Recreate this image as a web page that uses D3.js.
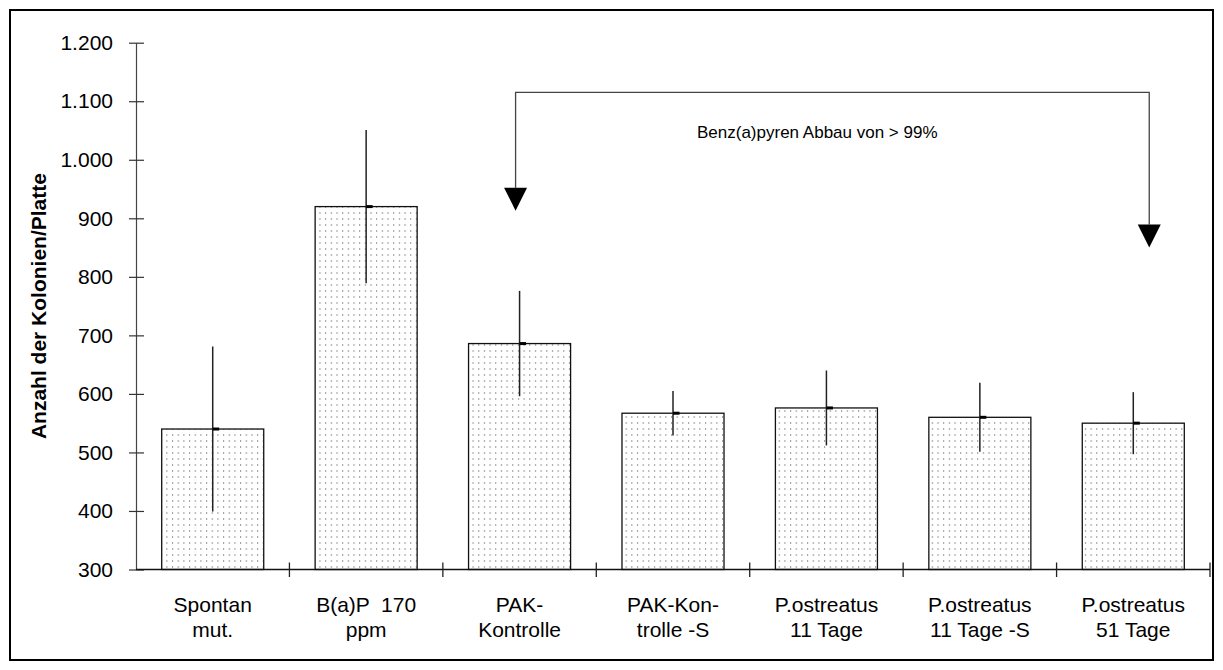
<!DOCTYPE html>
<html>
<head>
<meta charset="utf-8">
<script src="https://cdn.jsdelivr.net/npm/d3@7"></script>
<style>
  body { margin: 0; background: #fff; }
  svg { display: block; font-family: "Liberation Sans", Arial, sans-serif; }
</style>
</head>
<body>
<div id="chart-container"></div>
<script>
// data
const categories = [
  ["Spontan", "mut."],
  ["B(a)P  170", "ppm"],
  ["PAK-", "Kontrolle"],
  ["PAK-Kon-", "trolle -S"],
  ["P.ostreatus", "11 Tage"],
  ["P.ostreatus", "11 Tage -S"],
  ["P.ostreatus", "51 Tage"]
]
const means = [540, 920, 686, 567, 576, 560, 550]
const errors = [141, 131, 90, 38, 64, 59, 53]
const yTicks = [300, 400, 500, 600, 700, 800, 900, 1000, 1100, 1200]
const noteText = "Benz(a)pyren Abbau von > 99%"
// bracket: level and arrow tips in data units
const bracketLevel = 1115
const arrowTips = [913, 850]
const arrowCats = [2, 6]
const arrowFrac = [0.474, 0.604]

const W = 1223, H = 670
const plot = {left: 136, right: 1210, top: 42.7, bottom: 569.5}

const svg = d3.select("#chart-container")
  .append("svg")
    .attr("width", W)
    .attr("height", H)

// dotted fill like the Excel pattern
const pat = svg.append("defs").append("pattern")
  .attr("id", "dots")
  .attr("patternUnits", "userSpaceOnUse")
  .attr("width", 5.67)
  .attr("height", 6)
pat.append("rect").attr("width", 5.67).attr("height", 6).attr("fill", "#fff")
pat.append("rect").attr("x", 2).attr("y", 2).attr("width", 1).attr("height", 2).attr("fill", "#9a9a9a")

// outer frame
svg.append("rect")
  .attr("x", 10).attr("y", 10)
  .attr("width", 1203).attr("height", 650)
  .attr("fill", "none")
  .attr("stroke", "#000")
  .attr("stroke-width", 2)

const x = d3.scaleBand()
  .domain(d3.range(categories.length))
  .range([plot.left, plot.right])
  .padding(0)

const y = d3.scaleLinear()
  .domain([300, 1200])
  .range([plot.bottom, plot.top])

const de = d3.formatLocale({decimal: ",", thousands: ".", grouping: [3], currency: ["", " €"]})
const fmt = de.format(",d")

const barW = x.bandwidth() * 0.665
const cx = i => x(i) + x.bandwidth() / 2

// bars
svg.selectAll("rect.bar")
  .data(means)
  .join("rect")
    .attr("class", "bar")
    .attr("x", (d, i) => cx(i) - barW / 2)
    .attr("y", d => y(d))
    .attr("width", barW)
    .attr("height", d => y(300) - y(d))
    .attr("fill", "url(#dots)")
    .attr("stroke", "#111")
    .attr("stroke-width", 1.3)

// error bars (line only, with a small stub at the mean)
svg.selectAll("line.err")
  .data(means)
  .join("line")
    .attr("class", "err")
    .attr("x1", (d, i) => cx(i))
    .attr("x2", (d, i) => cx(i))
    .attr("y1", (d, i) => y(d + errors[i]))
    .attr("y2", (d, i) => y(d - errors[i]))
    .attr("stroke", "#222")
    .attr("stroke-width", 1.5)

svg.selectAll("line.stub")
  .data(means)
  .join("line")
    .attr("class", "stub")
    .attr("x1", (d, i) => cx(i))
    .attr("x2", (d, i) => cx(i) + 6.5)
    .attr("y1", d => y(d))
    .attr("y2", d => y(d))
    .attr("stroke", "#000")
    .attr("stroke-width", 3)

// y axis
const yAxis = svg.append("g")
  .attr("transform", `translate(${plot.left},0)`)
  .call(d3.axisLeft(y).tickValues(yTicks).tickFormat(fmt).tickSizeInner(7).tickSizeOuter(0).tickPadding(16))
yAxis.select(".domain").attr("stroke", "#444").attr("stroke-width", 1.2)
yAxis.selectAll(".tick line").attr("x2", 8).attr("x1", -7).attr("stroke", "#333").attr("stroke-width", 1.2)
yAxis.selectAll(".tick text")
  .attr("font-size", 21)
  .attr("font-family", "Liberation Sans, Arial, sans-serif")
  .attr("fill", "#000")
  .attr("x", -23)

// x axis with ticks at category boundaries
svg.append("line")
  .attr("x1", plot.left).attr("x2", plot.right)
  .attr("y1", plot.bottom).attr("y2", plot.bottom)
  .attr("stroke", "#111").attr("stroke-width", 1.3)

const bounds = d3.range(categories.length + 1).map(i => plot.left + i * x.step())
svg.selectAll("line.xtick")
  .data(bounds.slice(1))
  .join("line")
    .attr("class", "xtick")
    .attr("x1", d => d).attr("x2", d => d)
    .attr("y1", plot.bottom - 7).attr("y2", plot.bottom + 7.5)
    .attr("stroke", "#222").attr("stroke-width", 1.3)

// category labels
const lab = svg.selectAll("text.cat")
  .data(categories)
  .join("text")
    .attr("class", "cat")
    .attr("text-anchor", "middle")
    .attr("font-size", 21)
    .attr("fill", "#000")
    .style("white-space", "pre")
lab.each(function(d, i) {
  d3.select(this).selectAll("tspan")
    .data(d)
    .join("tspan")
      .attr("x", cx(i))
      .attr("y", (t, j) => 611.5 + j * 25)
      .text(t => t)
})

// y title
svg.append("text")
  .attr("transform", `translate(46,${(plot.top + plot.bottom) / 2}) rotate(-90)`)
  .attr("text-anchor", "middle")
  .attr("font-size", 21)
  .attr("font-weight", "bold")
  .attr("fill", "#000")
  .text("Anzahl der Kolonien/Platte")

// annotation bracket with arrows
const ax = arrowCats.map((c, k) => x(c) + x.bandwidth() * arrowFrac[k])
const yl = y(bracketLevel)
const headH = 23, headW = 23
svg.append("path")
  .attr("d", `M${ax[0]},${y(arrowTips[0]) - headH} V${yl} H${ax[1]} V${y(arrowTips[1]) - headH}`)
  .attr("fill", "none")
  .attr("stroke", "#444")
  .attr("stroke-width", 1.3)

svg.selectAll("path.head")
  .data(arrowTips)
  .join("path")
    .attr("class", "head")
    .attr("d", (d, k) => {
      const tx = ax[k], ty = y(d)
      return `M${tx - headW / 2},${ty - headH} L${tx + headW / 2},${ty - headH} L${tx},${ty} Z`
    })
    .attr("fill", "#000")

svg.append("text")
  .attr("x", 697)
  .attr("y", y(bracketLevel) + 46)
  .attr("font-size", 17)
  .attr("fill", "#000")
  .text(noteText)
</script>
</body>
</html>
